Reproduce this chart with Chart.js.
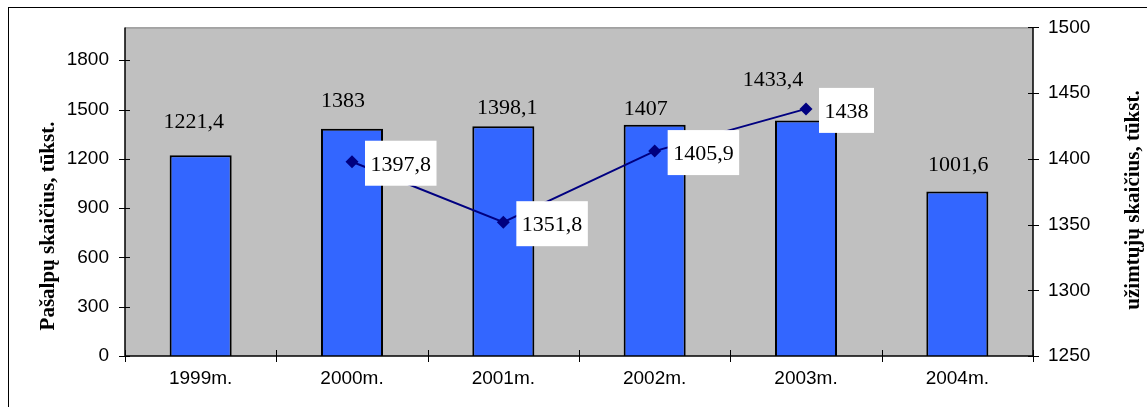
<!DOCTYPE html>
<html>
<head>
<meta charset="utf-8">
<script src="https://cdn.jsdelivr.net/npm/chart.js@4"></script>
<style>
  body { margin: 0; background: #fff; }
  #wrap { width: 1147px; height: 407px; }
</style>
</head>
<body>
<div id="wrap"><canvas id="benefitChart" width="1147" height="407"></canvas></div>
<script>
const years = ['1999m.', '2000m.', '2001m.', '2002m.', '2003m.', '2004m.'];
const benefits = [1221.4, 1383, 1398.1, 1407, 1433.4, 1001.6];
const employed = [null, 1397.8, 1351.8, 1405.9, 1438, null];
const leftTicks = [0, 300, 600, 900, 1200, 1500, 1800];
const rightTicks = [1250, 1300, 1350, 1400, 1450, 1500];

// hand placed bar labels: [dx, dy] from the top centre of each bar
const barLabelShift = [[-7, -35], [-9, -29], [4, -20], [-9, -17], [-33, -42], [1, -28]];

const serif = '"Liberation Serif", "Times New Roman", serif';
const sans = '"Liberation Sans", Arial, sans-serif';

function fmt(v) {
  return String(v).replace('.', ',');
}

const frame = {
  id: 'frame',
  beforeDraw(chart) {
    const ctx = chart.ctx;
    const a = chart.chartArea;
    ctx.save();
    ctx.fillStyle = '#c0c0c0';
    ctx.fillRect(a.left, a.top, a.right - a.left, a.bottom - a.top);
    ctx.strokeStyle = '#000';
    ctx.lineWidth = 1;
    ctx.strokeRect(8.5, 7.5, 1200, 500);
    ctx.restore();
  },
  afterDatasetsDraw(chart) {
    const ctx = chart.ctx;
    const a = chart.chartArea;
    const yl = chart.scales.y;
    const yr = chart.scales.y1;
    ctx.save();
    // plot outline and axes
    ctx.strokeStyle = '#808080';
    ctx.lineWidth = 1;
    ctx.beginPath();
    ctx.moveTo(a.left, a.top + 0.5);
    ctx.lineTo(a.right, a.top + 0.5);
    ctx.stroke();
    ctx.strokeStyle = '#000';
    ctx.lineWidth = 1.5;
    ctx.beginPath();
    ctx.moveTo(a.left, a.top);
    ctx.lineTo(a.left, a.bottom);
    ctx.lineTo(a.right, a.bottom);
    ctx.lineTo(a.right, a.top);
    ctx.stroke();
    ctx.lineWidth = 1;
    ctx.beginPath();
    leftTicks.forEach(v => {
      const y = Math.round(yl.getPixelForValue(v)) + 0.5;
      ctx.moveTo(a.left - 6, y);
      ctx.lineTo(a.left + 5, y);
    });
    rightTicks.forEach(v => {
      const y = Math.round(yr.getPixelForValue(v)) + 0.5;
      ctx.moveTo(a.right - 5, y);
      ctx.lineTo(a.right + 6, y);
    });
    const step = (a.right - a.left) / years.length;
    for (let i = 0; i <= years.length; i++) {
      const x = Math.round(a.left + i * step) + 0.5;
      ctx.moveTo(x, a.bottom - 6);
      ctx.lineTo(x, a.bottom + 6);
    }
    ctx.stroke();

    // value labels above the bars
    ctx.fillStyle = '#000';
    ctx.font = '22px ' + serif;
    ctx.textAlign = 'center';
    ctx.textBaseline = 'alphabetic';
    chart.getDatasetMeta(0).data.forEach((bar, i) => {
      const [dx, dy] = barLabelShift[i];
      ctx.fillText(fmt(benefits[i]), bar.x + dx, bar.y + dy + 7.5);
    });

    // boxed labels beside the line points
    chart.getDatasetMeta(1).data.forEach((pt, i) => {
      if (employed[i] === null) return;
      const text = fmt(employed[i]);
      const w = ctx.measureText(text).width + 11;
      const h = 45;
      const bx = pt.x + 13;
      const by = pt.y + 1.5 - h / 2;
      ctx.fillStyle = '#fff';
      ctx.fillRect(bx, by, w, h);
      ctx.fillStyle = '#000';
      ctx.fillText(text, bx + w / 2, by + h / 2 + 7.5);
    });

    // axis titles, both reading bottom to top
    ctx.font = 'bold 21px ' + serif;
    ctx.textBaseline = 'middle';
    ctx.translate(49, 226);
    ctx.rotate(-Math.PI / 2);
    ctx.fillText('Pašalpų skaičius, tūkst.', 0, 0);
    ctx.setTransform(1, 0, 0, 1, 0, 0);
    ctx.translate(1134, 200);
    ctx.rotate(-Math.PI / 2);
    ctx.fillText('užimtųjų skaičius, tūkst.', 0, 0);
    ctx.restore();
  }
};

new Chart(document.getElementById('benefitChart'), {
  type: 'bar',
  data: {
    labels: years,
    datasets: [
      {
        label: 'Pašalpų skaičius',
        data: benefits,
        yAxisID: 'y',
        backgroundColor: '#3366ff',
        borderColor: '#000',
        borderWidth: 2,
        categoryPercentage: 1,
        barPercentage: 0.41,
        order: 1
      },
      {
        type: 'line',
        label: 'Užimtųjų skaičius',
        data: employed,
        yAxisID: 'y1',
        borderColor: '#000080',
        borderWidth: 2,
        backgroundColor: '#000080',
        pointStyle: 'rectRot',
        pointRadius: 6.5,
        pointBorderWidth: 0,
        spanGaps: false,
        order: 0
      }
    ]
  },
  options: {
    responsive: false,
    animation: false,
    layout: { padding: { top: 27, left: 0, right: 0, bottom: 0 } },
    plugins: {
      legend: { display: false },
      tooltip: { enabled: false }
    },
    scales: {
      x: {
        grid: { display: false, drawTicks: false },
        border: { display: false },
        ticks: { color: '#000', font: { family: sans, size: 19 }, padding: 11, maxRotation: 0 },
        afterFit: s => { s.height = 51; }
      },
      y: {
        position: 'left',
        min: 0,
        max: 2000,
        grid: { display: false, drawTicks: false },
        border: { display: false },
        afterBuildTicks: s => { s.ticks = leftTicks.map(v => ({ value: v })); },
        ticks: { color: '#000', font: { family: sans, size: 19 }, padding: 16, callback: v => String(v) },
        afterFit: s => { s.width = 125; }
      },
      y1: {
        position: 'right',
        min: 1250,
        max: 1500,
        grid: { display: false, drawTicks: false },
        border: { display: false },
        afterBuildTicks: s => { s.ticks = rightTicks.map(v => ({ value: v })); },
        ticks: { color: '#000', font: { family: sans, size: 19 }, padding: 15, callback: v => String(v) },
        afterFit: s => { s.width = 114; }
      }
    }
  },
  plugins: [frame]
});
</script>
</body>
</html>
